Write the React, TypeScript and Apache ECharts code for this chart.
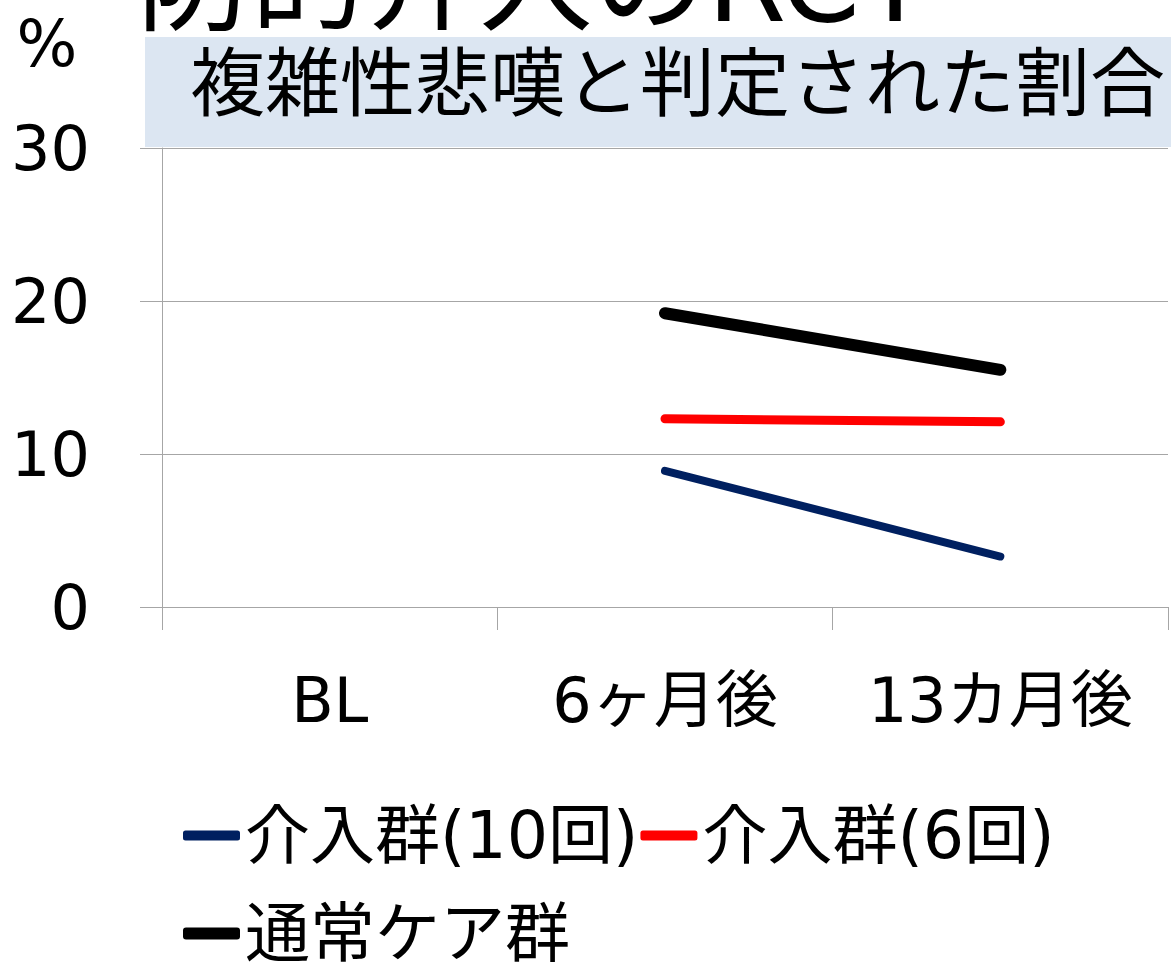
import React, { useEffect, useRef } from "react";
import * as echarts from "echarts";

// Time points and percentages judged as complicated grief
const categories = ["BL", "6ヶ月後", "13カ月後"];
const seriesNames = ["介入群(10回)", "介入群(6回)", "通常ケア群"];
const intervention10 = [null, 8.9, 3.3];
const intervention6 = [null, 12.3, 12.1];
const usualCare = [null, 19.2, 15.5];
const yTicks = { min: 0, max: 30, interval: 10 };

const titleText = "防的介入のRCT";
const subtitleText = "複雑性悲嘆と判定された割合";
const unitText = "%";

const FONT = "'DejaVu Sans', 'Noto Sans CJK JP', sans-serif";
const GRID_COLOR = "#a6a6a6";

export default function App() {
  const ref = useRef<HTMLDivElement>(null);

  useEffect(() => {
    document.body.style.margin = "0";
    if (!ref.current) return;
    const chart = echarts.init(ref.current, undefined, { renderer: "svg" });

    const lineSeries = (name: string, data: (number | null)[], color: string, width: number) => ({
      name,
      type: "line",
      data,
      symbol: "none",
      color,
      itemStyle: { color },
      lineStyle: { color, width, cap: "round" },
    });

    const legendText = { fontSize: 65, lineHeight: 60, color: "#000", fontFamily: FONT };

    chart.setOption({
      animation: false,
      backgroundColor: "#ffffff",
      textStyle: { fontFamily: FONT },
      grid: { left: 162, right: 3, top: 148, bottom: 356, containLabel: false },
      graphic: [
        {
          type: "text",
          left: 137,
          top: -76,
          style: {
            text: titleText,
            font: `114px ${FONT}`,
            fill: "#000000",
          },
          z: 1,
        },
        {
          type: "rect",
          shape: { x: 145, y: 37, width: 1026, height: 110 },
          style: { fill: "#dce6f2" },
          z: 2,
        },
        {
          type: "text",
          x: 190,
          y: 84,
          style: {
            text: subtitleText,
            font: `75px ${FONT}`,
            fill: "#000000",
            verticalAlign: "middle",
          },
          z: 3,
        },
        {
          type: "text",
          x: 47,
          y: 44,
          style: {
            text: unitText,
            font: `64px ${FONT}`,
            fill: "#000000",
            align: "center",
            verticalAlign: "middle",
          },
          z: 3,
        },
      ],
      legend: [
        {
          data: seriesNames.slice(0, 2),
          left: 183,
          top: 803,
          padding: 0,
          itemGap: 2,
          itemWidth: 57,
          itemHeight: 10,
          icon: "roundRect",
          textStyle: legendText,
        },
        {
          data: seriesNames.slice(2),
          left: 183,
          top: 901,
          padding: 0,
          itemWidth: 57,
          itemHeight: 12,
          icon: "roundRect",
          textStyle: legendText,
        },
      ],
      xAxis: {
        type: "category",
        data: categories,
        boundaryGap: true,
        axisLine: { show: true, lineStyle: { color: GRID_COLOR, width: 1 } },
        axisTick: { show: true, interval: 0, length: 23, lineStyle: { color: GRID_COLOR } },
        axisLabel: { interval: 0, fontSize: 62, color: "#000", margin: 62, fontFamily: FONT },
      },
      yAxis: {
        type: "value",
        min: yTicks.min,
        max: yTicks.max,
        interval: yTicks.interval,
        axisLine: { show: true, lineStyle: { color: GRID_COLOR, width: 1 } },
        axisTick: { show: true, length: 22, lineStyle: { color: GRID_COLOR } },
        axisLabel: { fontSize: 62, color: "#000", margin: 72, fontFamily: FONT },
        splitLine: { show: true, lineStyle: { color: GRID_COLOR, width: 1 } },
      },
      series: [
        lineSeries(seriesNames[0], intervention10, "#002060", 8),
        lineSeries(seriesNames[1], intervention6, "#ff0000", 9),
        lineSeries(seriesNames[2], usualCare, "#000000", 12),
      ],
    });

    return () => chart.dispose();
  }, []);

  return <div ref={ref} style={{ width: 1171, height: 963 }} />;
}
